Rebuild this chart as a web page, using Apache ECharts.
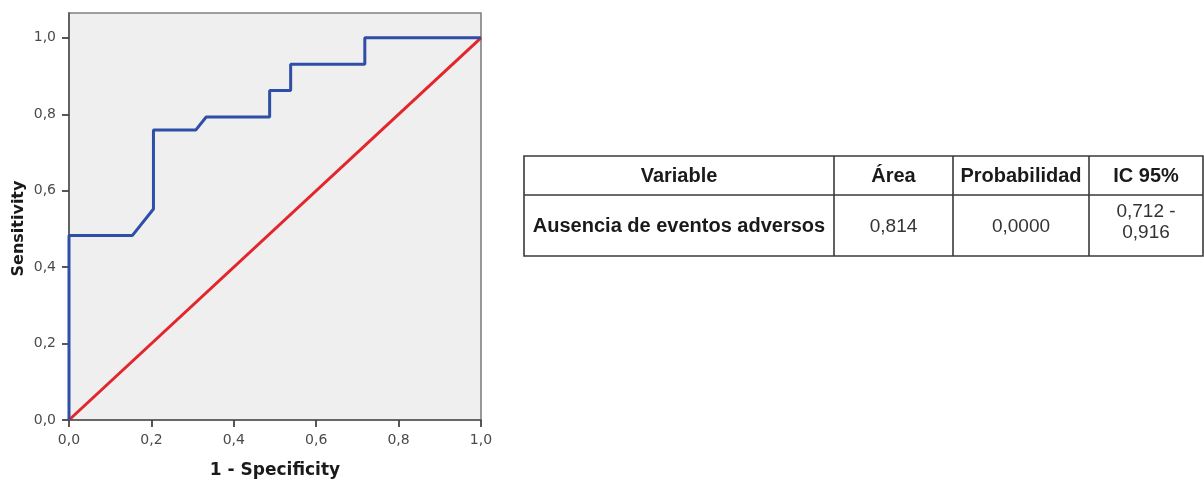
<!DOCTYPE html>
<html>
<head>
<meta charset="utf-8">
<script src="https://cdn.jsdelivr.net/npm/echarts@6/dist/echarts.min.js"></script>
<style>
html,body{margin:0;padding:0;background:#fff;}
#chart{width:1204px;height:480px;}
</style>
</head>
<body>
<div id="chart"></div>
<script>
// ROC curve (1 - specificity, sensitivity)
const rocFpr = [0, 0, 0.154, 0.205, 0.205, 0.308, 0.333, 0.487, 0.487, 0.538, 0.538, 0.718, 0.718, 1];
const rocTpr = [0, 0.483, 0.483, 0.552, 0.759, 0.759, 0.793, 0.793, 0.862, 0.862, 0.931, 0.931, 1, 1];
// reference diagonal
const refX = [0, 1];
const refY = [0, 1];
// axis tick values
const tickValues = [0, 0.2, 0.4, 0.6, 0.8, 1.0];
// table
const tableHeader = ['Variable', 'Área', 'Probabilidad', 'IC 95%'];
const tableRow = ['Ausencia de eventos adversos', '0,814', '0,0000', '0,712 -\n0,916'];

const fmt = v => v.toFixed(1).replace('.', ',');

const chart = echarts.init(document.getElementById('chart'));

// table layout (pixels)
const colX = [524, 834, 953, 1089, 1203];
const rowY = [156, 195, 256];
const lineCol = '#3a3a3a';
const graphics = [];
graphics.push({type:'rect', shape:{x:colX[0], y:rowY[0], width:colX[4]-colX[0], height:rowY[2]-rowY[0]}, style:{fill:'#fff', stroke:lineCol, lineWidth:1.6}, z:10});
graphics.push({type:'line', shape:{x1:colX[0], y1:rowY[1], x2:colX[4], y2:rowY[1]}, style:{stroke:lineCol, lineWidth:1.6}, z:11});
for (let i = 1; i < 4; i++) {
  graphics.push({type:'line', shape:{x1:colX[i], y1:rowY[0], x2:colX[i], y2:rowY[2]}, style:{stroke:lineCol, lineWidth:1.6}, z:11});
}
tableHeader.forEach((t, i) => {
  graphics.push({type:'text', x:(colX[i]+colX[i+1])/2, y:(rowY[0]+rowY[1])/2 + 1, z:12,
    style:{text:t, fill:'#1a1a1a', font:'bold 20px "Liberation Sans", Arial, sans-serif', align:'center', verticalAlign:'middle'}});
});
tableRow.forEach((t, i) => {
  const multi = t.indexOf('\n') >= 0;
  graphics.push({type:'text', x:(colX[i]+colX[i+1])/2, y:(rowY[1]+rowY[2])/2 + (multi ? -3 : 1), z:12,
    style:{text:t, fill: i === 0 ? '#1a1a1a' : '#333', lineHeight:21,
      font:(i === 0 ? 'bold 20px' : '19px') + ' "Liberation Sans", Arial, sans-serif', align:'center', verticalAlign:'middle'}});
});

chart.setOption({
  animation:false,
  backgroundColor:'#ffffff',
  grid:{left:69, top:13, right:723, bottom:60, outerBoundsMode:'none', containLabel:false,
        show:true, backgroundColor:'#efefef', borderColor:'#808080', borderWidth:1.6},
  xAxis:{
    type:'value', min:0, max:1, interval:0.2,
    name:'1 - Specificity', nameLocation:'middle', nameGap:42,
    nameTextStyle:{fontFamily:'DejaVu Sans', fontWeight:'bold', fontSize:17, color:'#1a1a1a'},
    axisLine:{show:true, onZero:false, lineStyle:{color:'#555', width:1.6}},
    axisTick:{show:true, length:7, lineStyle:{color:'#444', width:1.8}},
    axisLabel:{formatter:fmt, fontFamily:'DejaVu Sans', fontSize:14, color:'#4a4a4a', margin:13},
    splitLine:{show:false}
  },
  yAxis:{
    type:'value', min:0, max:1.065, interval:0.2,
    name:'Sensitivity', nameLocation:'middle', nameGap:42,
    nameTextStyle:{fontFamily:'DejaVu Sans', fontWeight:'bold', fontSize:16, color:'#1a1a1a', padding:[0,24,0,0]},
    axisLine:{show:true, onZero:false, lineStyle:{color:'#555', width:1.6}},
    axisTick:{show:true, length:7, customValues:tickValues, lineStyle:{color:'#444', width:1.8}},
    axisLabel:{formatter:fmt, customValues:tickValues, fontFamily:'DejaVu Sans', fontSize:14, color:'#4a4a4a', margin:13},
    splitLine:{show:false}
  },
  series:[
    {type:'line', data:refX.map((x,i)=>[x, refY[i]]), symbol:'none', clip:false,
     lineStyle:{color:'#e3262b', width:3}, z:2},
    {type:'line', data:rocFpr.map((x,i)=>[x, rocTpr[i]]), symbol:'none', clip:false,
     lineStyle:{color:'#2f4fa6', width:3}, z:3}
  ],
  graphic:graphics
});
</script>
</body>
</html>
